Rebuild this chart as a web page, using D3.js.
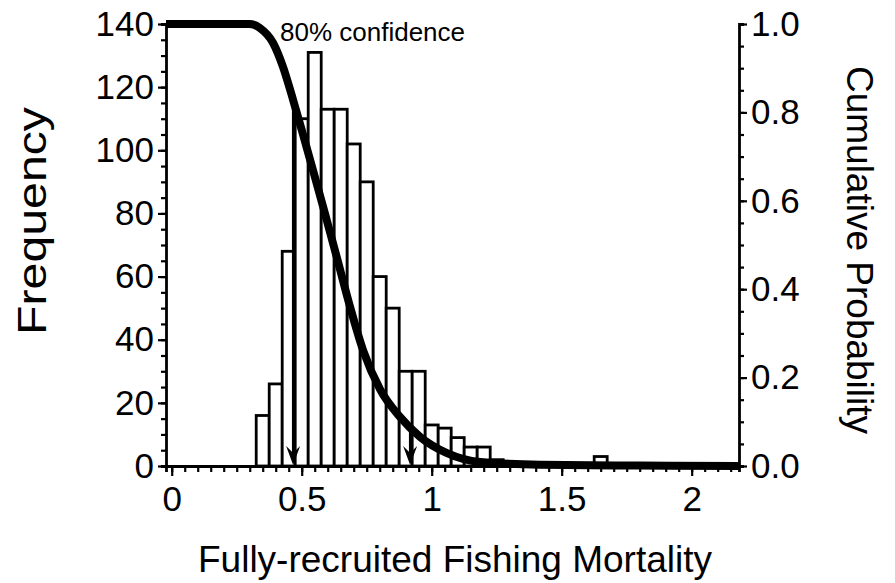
<!DOCTYPE html>
<html>
<head>
<meta charset="utf-8">
<script src="https://cdn.jsdelivr.net/npm/d3@7"></script>
<style>
  body { margin: 0; background: #fff; }
  svg { font-family: "Liberation Sans", Arial, sans-serif; }
</style>
</head>
<body>
<div id="viz"></div>
<script>
// histogram bins (centre of each 0.05-wide bin) and counts
const binCenters = [0.35, 0.40, 0.45, 0.50, 0.55, 0.60, 0.65, 0.70, 0.75, 0.80, 0.85,
                    0.90, 0.95, 1.00, 1.05, 1.10, 1.15, 1.20, 1.25, 1.30, 1.40, 1.65];
const frequency  = [16, 26, 68, 110, 131, 113, 113, 102, 90, 60, 50,
                    30, 30, 13, 12, 9, 6, 6, 2, 1, 1, 3];
const binWidth = 0.05;

// cumulative probability curve
const curveF = [-0.022, 0.30, 0.339, 0.39, 0.428, 0.467, 0.505, 0.544, 0.59, 0.636,
                0.686, 0.736, 0.801, 0.878, 0.955, 1.059, 1.186, 1.417, 1.8, 2.182];
const curveP = [1.0, 1.0, 0.991, 0.957, 0.903, 0.828, 0.750, 0.668, 0.570, 0.470,
                0.360, 0.262, 0.174, 0.111, 0.066, 0.029, 0.009, 0.003, 0.001, 0.0];

// 80% confidence limits
const arrowF = [0.467, 0.917];
const arrowP = [0.828, 0.09];

const xTicks = [0, 0.5, 1, 1.5, 2];
const xTickLabels = ["0", "0.5", "1", "1.5", "2"];
const freqTicks = [0, 20, 40, 60, 80, 100, 120, 140];
const probTicks = [0, 0.2, 0.4, 0.6, 0.8, 1.0];

const width = 895;
const height = 583;

const svg = d3.select("#viz")
  .append("svg")
  .attr("width", width)
  .attr("height", height);

const x = d3.scaleLinear().domain([-0.022, 2.182]).range([166, 739]);
const yL = d3.scaleLinear().domain([0, 140]).range([466, 24]);
const yR = d3.scaleLinear().domain([0, 1]).range([466, 24]);

// bars
svg.append("g")
  .selectAll("rect")
  .data(binCenters)
  .enter().append("rect")
  .attr("x", d => x(d - binWidth / 2))
  .attr("width", d => x(d + binWidth / 2) - x(d - binWidth / 2))
  .attr("y", (d, i) => yL(frequency[i]))
  .attr("height", (d, i) => yL(0) - yL(frequency[i]))
  .attr("fill", "#fff")
  .attr("stroke", "#000")
  .attr("stroke-width", 2.8);

// axes
function styleAxis(g) {
  g.select(".domain").attr("stroke", "#000").attr("stroke-width", 2.8);
  g.selectAll(".tick line").attr("stroke", "#000").attr("stroke-width", 2.2);
  g.selectAll(".tick text").attr("fill", "#000");
}

// minor ticks
svg.append("g")
  .attr("transform", `translate(0,${yL(0)})`)
  .call(d3.axisBottom(x).tickValues(d3.range(0, 2.18, 0.05)).tickSize(6).tickFormat(""))
  .call(styleAxis);
svg.append("g")
  .attr("transform", `translate(${x.range()[0]},0)`)
  .call(d3.axisLeft(yL).tickValues(d3.range(0, 141, 5)).tickSize(5).tickFormat(""))
  .call(styleAxis);
svg.append("g")
  .attr("transform", `translate(${x.range()[1]},0)`)
  .call(d3.axisRight(yR).tickValues(d3.range(0, 1.001, 0.05)).tickSize(5).tickFormat(""))
  .call(styleAxis);

// major ticks with labels
svg.append("g")
  .attr("transform", `translate(0,${yL(0)})`)
  .call(d3.axisBottom(x).tickValues(xTicks).tickSize(10).tickPadding(10)
    .tickFormat((d, i) => xTickLabels[i]))
  .call(styleAxis)
  .call(g => g.select(".domain").remove())
  .selectAll("text").attr("font-size", 35).attr("font-family", null);

svg.append("g")
  .attr("transform", `translate(${x.range()[0]},0)`)
  .call(d3.axisLeft(yL).tickValues(freqTicks).tickSize(8).tickPadding(4).tickFormat(d3.format("d")))
  .call(styleAxis)
  .call(g => g.select(".domain").remove())
  .selectAll("text").attr("font-size", 35).attr("font-family", null);

svg.append("g")
  .attr("transform", `translate(${x.range()[1]},0)`)
  .call(d3.axisRight(yR).tickValues(probTicks).tickSize(8).tickPadding(4).tickFormat(d3.format(".1f")))
  .call(styleAxis)
  .call(g => g.select(".domain").remove())
  .selectAll("text").attr("font-size", 35).attr("font-family", null);

// cumulative curve
svg.append("clipPath").attr("id", "plotClip")
  .append("rect")
  .attr("x", x.range()[0]).attr("y", 0)
  .attr("width", x.range()[1] - x.range()[0]).attr("height", yL(0) + 4);

const line = d3.line()
  .x((d, i) => x(curveF[i]))
  .y(d => yR(d))
  .curve(d3.curveMonotoneX);

svg.append("path")
  .datum(curveP)
  .attr("clip-path", "url(#plotClip)")
  .attr("d", line)
  .attr("fill", "none")
  .attr("stroke", "#000")
  .attr("stroke-width", 8)
  .attr("stroke-linejoin", "round");

// confidence arrows
const arrows = svg.append("g");
arrowF.forEach((f, i) => {
  const ax = x(f);
  const tip = yR(0) - 1;
  arrows.append("line")
    .attr("x1", ax).attr("x2", ax)
    .attr("y1", yR(arrowP[i])).attr("y2", tip - 8)
    .attr("stroke", "#000").attr("stroke-width", 2.4);
  arrows.append("path")
    .attr("d", `M${ax - 7},${tip - 19} L${ax},${tip} L${ax + 7},${tip - 19} L${ax},${tip - 12} Z`)
    .attr("fill", "#000");
});

// annotation
svg.append("text")
  .attr("x", 280).attr("y", 41)
  .attr("font-size", 26)
  .text("80% confidence");

// axis titles
svg.append("text")
  .attr("transform", "translate(46,221) rotate(-90)")
  .attr("text-anchor", "middle")
  .attr("font-size", 40)
  .attr("textLength", 228)
  .attr("lengthAdjust", "spacingAndGlyphs")
  .text("Frequency");

svg.append("text")
  .attr("transform", "translate(847,250) rotate(90)")
  .attr("text-anchor", "middle")
  .attr("font-size", 37)
  .text("Cumulative Probability");

svg.append("text")
  .attr("x", 455).attr("y", 572)
  .attr("text-anchor", "middle")
  .attr("font-size", 37)
  .text("Fully-recruited Fishing Mortality");
</script>
</body>
</html>
